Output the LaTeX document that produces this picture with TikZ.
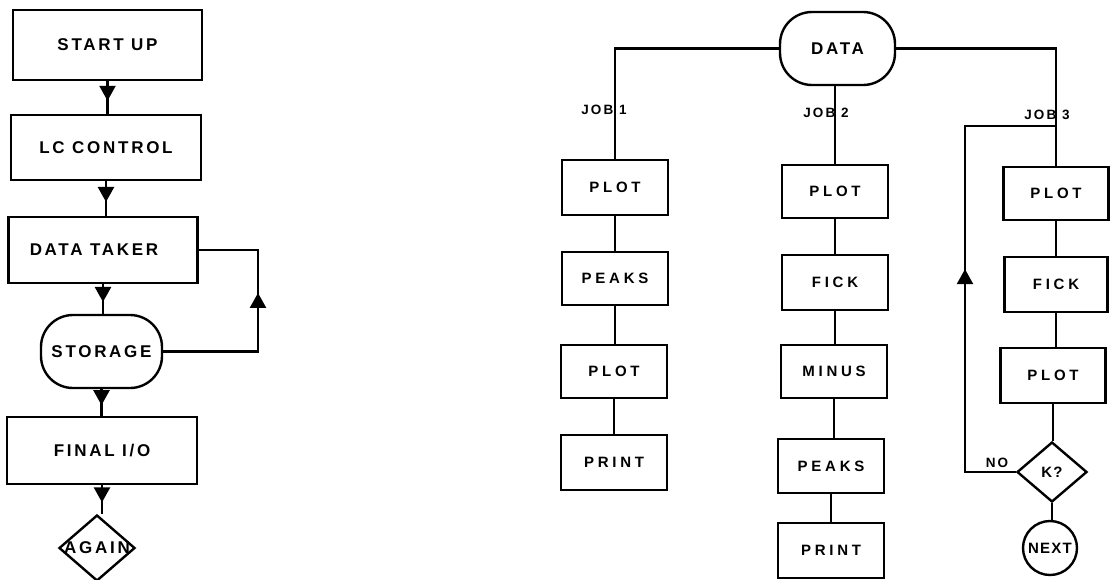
\documentclass[tikz,border=0pt]{standalone}
\usepackage{fontspec}
\setmainfont{Liberation Sans}
\newfontfamily\stencil{Liberation Sans}[LetterSpace=16]
\newfontfamily\widestencil{Liberation Sans}[LetterSpace=25]
\newfontfamily\narrowstencil{Liberation Sans}[LetterSpace=8]
\usetikzlibrary{shapes.geometric,decorations.markings,arrows.meta}

\begin{document}
\begin{tikzpicture}[x=1pt,y=-1pt,line width=2.4pt,
  big/.style={font=\stencil\bfseries\fontsize{17}{20}\selectfont},
  small/.style={font=\widestencil\bfseries\fontsize{15}{18}\selectfont},
  tight/.style={font=\narrowstencil\bfseries\fontsize{15}{18}\selectfont},
  joblbl/.style={font=\stencil\bfseries\fontsize{13.5}{16}\selectfont, inner sep=0},
  box/.style={draw, rectangle, inner sep=0, minimum width=#1},
  box/.default=106,
  term/.style={draw, rectangle, rounded corners=32pt, inner sep=0},
  decide/.style={draw, diamond, inner sep=0},
  flow/.style={postaction={decorate}, decoration={markings,
    mark=at position #1 with {\arrow{Triangle[length=15pt,width=16pt]}}}},
  flow/.default=0.6]
\useasboundingbox (0,0) rectangle (1113,579);

% ---- main program ----
\node[box=189, minimum height=70, big] (start) at (107.5,45)  {START UP};
\node[box=190, minimum height=65, big] (lc)    at (106,147.5) {LC CONTROL};
\node[box=189, minimum height=66, big] (taker) at (103,250)   {DATA TAKER\hspace*{18pt}};
\node[term, minimum width=121, minimum height=73, big] (store) at (101.5,351.5) {STORAGE};
\node[box=190, minimum height=67, big] (final) at (102,450.5) {FINAL I/O};
\node[decide, minimum width=76, minimum height=66,
      label={[big, inner sep=0]center:AGAIN}] (again) at (97,548) {};

\draw[flow] (start.south) -- (start.south |- lc.north);
\draw[flow] (lc.south) -- (lc.south |- taker.north);
\draw[flow] (taker.south) -- (taker.south |- store.north);
\draw[flow] (store.south) -- (store.south |- final.north);
\draw[flow] (final.south) -- (final.south |- again.north);
\draw[flow] (store.east) -- (258,351.5) -- (258,250) -- (taker.east);

% ---- evaluation jobs ----
\node[term, minimum width=115, minimum height=73, big] (data) at (837.5,48.5) {DATA};

% job 1
\node[box, minimum height=55, small] (p11) at (615,187.5) {PLOT};
\node[box, minimum height=53, small] (p12) at (615,278.5) {PEAKS};
\node[box, minimum height=53, small] (p13) at (614,371.5) {PLOT};
\node[box, minimum height=55, small] (p14) at (614,462.5) {PRINT};

% job 2
\node[box, minimum height=53, small] (p21) at (835,191.5) {PLOT};
\node[box, minimum height=55, small] (p22) at (835,282.5) {FICK};
\node[box, minimum height=53, small] (p23) at (834,371.5) {MINUS};
\node[box, minimum height=54, small] (p24) at (831,466)   {PEAKS};
\node[box, minimum height=55, small] (p25) at (831,550.5) {PRINT};

% job 3
\node[box=105, minimum height=53, small] (p31) at (1056,193.5) {PLOT};
\node[box=103, minimum height=55, small] (p32) at (1056,284.5) {FICK};
\node[box=105, minimum height=55, small] (p33) at (1053,375.5) {PLOT};
\node[decide, minimum width=70, minimum height=60,
      label={[tight, inner sep=0]center:K?}] (k) at (1052,472) {};
\node[draw, circle, minimum size=54, inner sep=0,
      label={[tight, inner sep=0]center:NEXT}] (next) at (1050,548) {};

% branch labels
\node[joblbl] (j1) at (604,110) {JOB 1};
\node[joblbl] (j2) at (826,113) {JOB 2};
\node[joblbl] (j3) at (1047,115) {JOB 3};
\node[joblbl] (no) at (997,463) {NO};

\draw (data.west) -| (p11.north);
\draw (p21.north |- data.south) -- (p21.north);
\draw (data.east) -| (p31.north);

\draw (p11.south) -- (p11.south |- p12.north);
\draw (p12.south) -- (p12.south |- p13.north);
\draw (p13.south) -- (p13.south |- p14.north);

\draw (p21.south) -- (p21.south |- p22.north);
\draw (p22.south) -- (p22.south |- p23.north);
\draw (p23.south) -- (p23.south |- p24.north);
\draw (p24.south) -- (p24.south |- p25.north);

\draw (p31.south) -- (p31.south |- p32.north);
\draw (p32.south) -- (p32.south |- p33.north);
\draw (p33.south) -- (p33.south |- k.north);
\draw (k.south) -- (k.south |- next.north);

\coordinate (loop) at (p31.north |- 0,126);
\draw[flow=0.52] (k.west) -- (965,472) -- (965,126) -- (loop);
\end{tikzpicture}
\end{document}
